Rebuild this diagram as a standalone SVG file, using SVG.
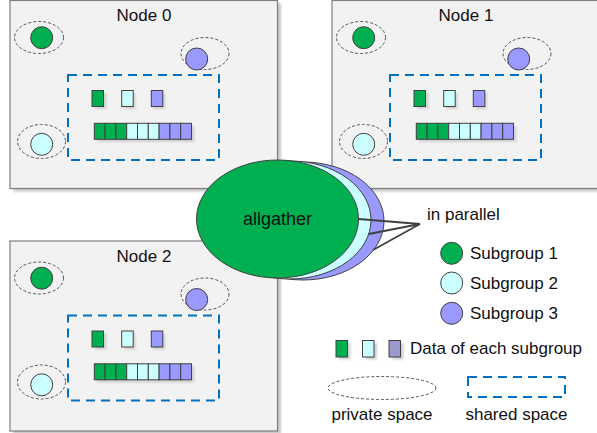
<svg xmlns="http://www.w3.org/2000/svg" width="597" height="433" viewBox="0 0 597 433">
<defs>
<filter id="sh" x="-10%" y="-10%" width="130%" height="130%">
<feGaussianBlur stdDeviation="1.2"/>
</filter>
<style>
text{font-family:"Liberation Sans",Arial,sans-serif;font-size:17px;fill:#111}
.box{fill:#f2f2f2;stroke:#7f7f7f;stroke-width:1.2}
.bsh{fill:#c8c8c8;filter:url(#sh)}
.priv{fill:none;stroke:#555;stroke-width:1;stroke-dasharray:3,2}
.shared{fill:none;stroke:#0070c0;stroke-width:2;stroke-dasharray:9,6}
.g{fill:#00b050;stroke:#404040;stroke-width:1}
.c{fill:#ccffff;stroke:#404040;stroke-width:1}
.p{fill:#9999ff;stroke:#404040;stroke-width:1}
.pl{fill:#9999cc;stroke:#404040;stroke-width:1}
.dsh{fill:#d0d0d0;filter:url(#sh)}
.ln{stroke:#404040;stroke-width:1.8;fill:none}
</style>
<g id="nodeContent">
<ellipse class="priv" cx="39" cy="37.5" rx="24.5" ry="16"/>
<circle class="g" cx="41.7" cy="37.7" r="11"/>
<ellipse class="priv" cx="205" cy="53.5" rx="24" ry="16"/>
<circle class="p" cx="196.7" cy="59" r="11"/>
<ellipse class="priv" cx="41.5" cy="141.5" rx="24" ry="17"/>
<circle class="c" cx="41.7" cy="144.3" r="11"/>
<rect class="shared" x="68" y="75" width="151" height="85"/>
<rect class="dsh" x="95" y="93" width="11.5" height="16"/>
<rect class="dsh" x="124" y="93" width="11.5" height="16"/>
<rect class="dsh" x="153.5" y="93" width="11.5" height="16"/>
<rect class="g" x="92" y="90.5" width="11.5" height="16"/>
<rect class="c" x="121.7" y="90.5" width="11.5" height="16"/>
<rect class="p" x="151.3" y="90.5" width="11.5" height="16"/>
<rect class="dsh" x="97" y="126" width="97.3" height="16"/>
<rect class="g" x="94.3" y="123.3" width="10.8" height="16"/>
<rect class="g" x="105.1" y="123.3" width="10.8" height="16"/>
<rect class="g" x="115.9" y="123.3" width="10.8" height="16"/>
<rect class="c" x="126.7" y="123.3" width="10.8" height="16"/>
<rect class="c" x="137.5" y="123.3" width="10.8" height="16"/>
<rect class="c" x="148.3" y="123.3" width="10.8" height="16"/>
<rect class="p" x="159.1" y="123.3" width="10.8" height="16"/>
<rect class="p" x="169.9" y="123.3" width="10.8" height="16"/>
<rect class="p" x="180.7" y="123.3" width="10.8" height="16"/>
</g>
</defs>

<g id="node0">
<rect class="bsh" x="13" y="3.5" width="268" height="188"/>
<rect class="box" x="10" y="0.5" width="267.5" height="188"/>
<text x="144" y="21" text-anchor="middle">Node 0</text>
<use href="#nodeContent"/>
</g>

<g id="node1">
<rect class="bsh" x="335" y="3.5" width="268" height="188"/>
<rect class="box" x="332" y="0.5" width="268" height="188"/>
<text x="466" y="21" text-anchor="middle">Node 1</text>
<use href="#nodeContent" transform="translate(322,0)"/>
</g>

<g id="node2">
<rect class="bsh" x="13" y="244" width="268" height="190"/>
<rect class="box" x="10" y="241" width="267.5" height="190"/>
<text x="144" y="262" text-anchor="middle">Node 2</text>
<use href="#nodeContent" transform="translate(0,240.5)"/>
</g>

<g id="allgather">
<ellipse cx="303" cy="221" rx="81" ry="59" class="p"/>
<ellipse cx="290" cy="220" rx="81" ry="59" class="c"/>
<ellipse cx="277.5" cy="219" rx="81" ry="59" class="g"/>
<text x="277.5" y="225" text-anchor="middle" style="font-size:18px">allgather</text>
</g>

<g id="connectors">
<line class="ln" x1="358.5" y1="219" x2="420" y2="224"/>
<line class="ln" x1="368.7" y1="234" x2="420" y2="224"/>
<line class="ln" x1="373" y1="250" x2="420" y2="224"/>
</g>

<g id="label-parallel">
<text x="427" y="220">in parallel</text>
</g>

<g id="legend-sub1">
<circle class="g" cx="451.7" cy="253.3" r="11"/>
<text x="470" y="259">Subgroup 1</text>
</g>
<g id="legend-sub2">
<circle class="c" cx="451.7" cy="283" r="11"/>
<text x="470" y="289">Subgroup 2</text>
</g>
<g id="legend-sub3">
<circle class="p" cx="451.7" cy="313.3" r="11"/>
<text x="470" y="319">Subgroup 3</text>
</g>

<g id="legend-data">
<rect class="dsh" x="339" y="343" width="11.5" height="16.5"/>
<rect class="dsh" x="365.5" y="343" width="11.5" height="16.5"/>
<rect class="dsh" x="392" y="343" width="11.5" height="16.5"/>
<rect class="g" x="336" y="340.5" width="11.5" height="16.5"/>
<rect class="c" x="362.5" y="340.5" width="11.5" height="16.5"/>
<rect class="pl" x="389" y="340.5" width="11.5" height="16.5"/>
<text x="410" y="354">Data of each subgroup</text>
</g>

<g id="legend-private">
<ellipse class="priv" cx="382" cy="388" rx="54" ry="11.5"/>
<text x="382" y="420" text-anchor="middle">private space</text>
</g>

<g id="legend-shared">
<rect class="shared" x="468" y="377" width="97" height="20"/>
<text x="516.5" y="420" text-anchor="middle">shared space</text>
</g>
</svg>
